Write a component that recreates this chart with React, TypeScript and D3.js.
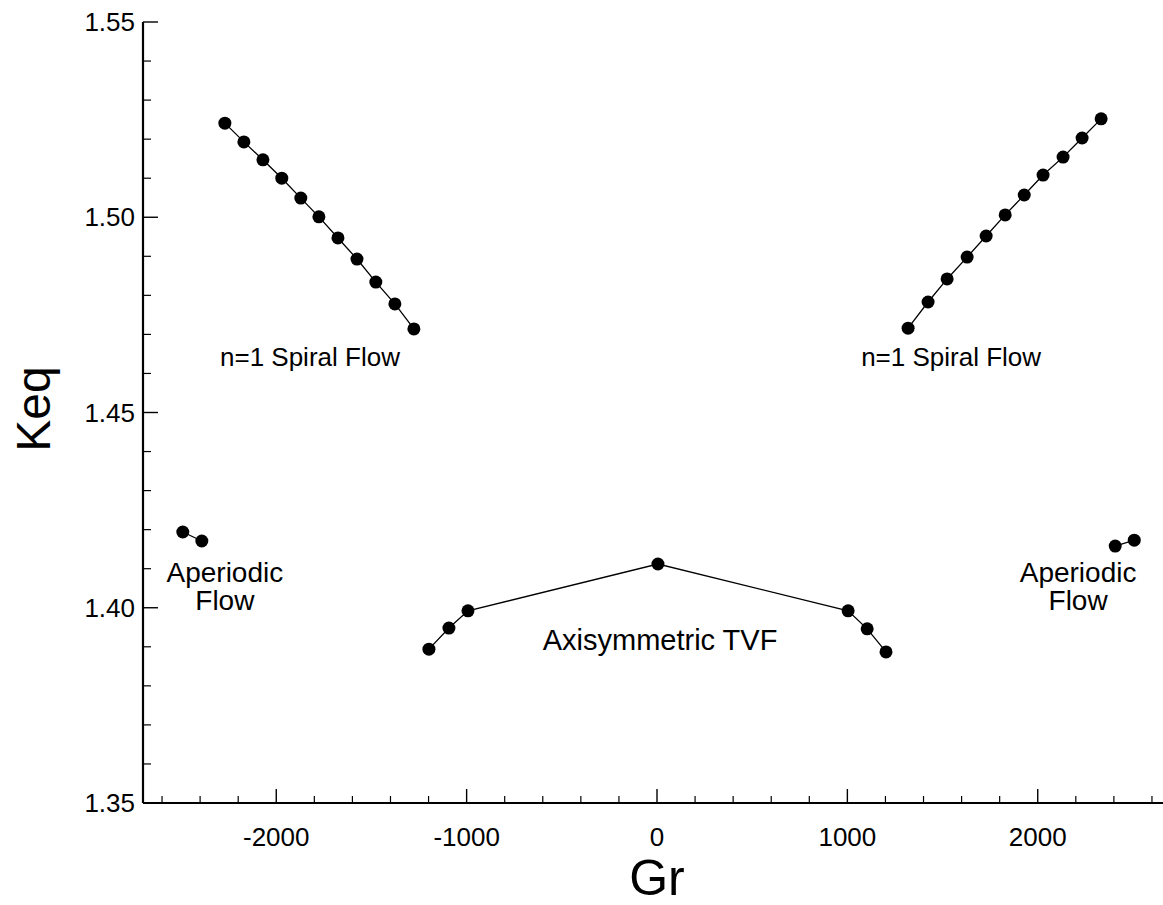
import React from "react";
import * as d3 from "d3";

// Keq versus Grashof number for the flow states
const spiralLeftGr = [-2270, -2170, -2070, -1971, -1871, -1776, -1676, -1576, -1477, -1377, -1277];
const spiralLeftKeq = [1.5241, 1.5193, 1.5147, 1.51, 1.5049, 1.5001, 1.4947, 1.4893, 1.4834, 1.4778, 1.4714];

const spiralRightGr = [1319, 1424, 1524, 1629, 1729, 1829, 1929, 2028, 2133, 2233, 2333];
const spiralRightKeq = [1.4716, 1.4783, 1.4842, 1.4898, 1.4952, 1.5006, 1.5057, 1.5108, 1.5154, 1.5203, 1.5252];

const aperiodicLeftGr = [-2491, -2391];
const aperiodicLeftKeq = [1.4194, 1.4171];

const aperiodicRightGr = [2407, 2507];
const aperiodicRightKeq = [1.4158, 1.4173];

const tvfGr = [-1198, -1093, -993, 5, 1004, 1104, 1203];
const tvfKeq = [1.3894, 1.3948, 1.3992, 1.4112, 1.3992, 1.3946, 1.3887];

const xTickValues = [-2000, -1000, 0, 1000, 2000];
const yTickValues = [1.35, 1.4, 1.45, 1.5, 1.55];

// text annotations anchored in data coordinates (Gr, Keq of first baseline)
const annotations = [
  { lines: ["n=1 Spiral Flow"], gr: -1823, keq: 1.4618, size: 26 },
  { lines: ["n=1 Spiral Flow"], gr: 1545, keq: 1.4618, size: 26 },
  { lines: ["Aperiodic", "Flow"], gr: -2270, keq: 1.4066, size: 28 },
  { lines: ["Aperiodic", "Flow"], gr: 2212, keq: 1.4066, size: 28 },
  { lines: ["Axisymmetric TVF"], gr: 16, keq: 1.3892, size: 29 },
];

const W = 1163;
const H = 905;
const FONT = "'Liberation Sans', Arial, Helvetica, sans-serif";

export default function App() {
  const x = d3.scaleLinear().domain([-2700, 2700]).range([143, 1171]);
  const y = d3.scaleLinear().domain([1.35, 1.55]).range([803, 22]);

  const series = [
    { gr: spiralLeftGr, keq: spiralLeftKeq },
    { gr: spiralRightGr, keq: spiralRightKeq },
    { gr: aperiodicLeftGr, keq: aperiodicLeftKeq },
    { gr: aperiodicRightGr, keq: aperiodicRightKeq },
    { gr: tvfGr, keq: tvfKeq },
  ];

  const line = d3
    .line<[number, number]>()
    .x((d) => x(d[0]))
    .y((d) => y(d[1]));

  const xMinor = d3.range(-2600, 2701, 200).filter((v) => v % 1000 !== 0);
  const yMinor = d3.range(135, 156, 1).map((v) => v / 100).filter((v) => Math.round(v * 100) % 5 !== 0);

  const x0 = x.range()[0];
  const y0 = y.range()[0];

  return (
    <svg
      width={W}
      height={H}
      style={{ position: "absolute", left: 0, top: 0, background: "#fff" }}
      fontFamily={FONT}
    >
      <rect width={W} height={H} fill="#fff" />

      {/* axes */}
      <line x1={x0} y1={y(1.55)} x2={x0} y2={y0} stroke="#000" strokeWidth={2.2} />
      <line x1={x0} y1={y0} x2={x.range()[1]} y2={y0} stroke="#000" strokeWidth={2.2} />

      {/* x ticks */}
      {xTickValues.map((v) => (
        <g key={"xt" + v}>
          <line x1={x(v)} x2={x(v)} y1={y0} y2={y0 - 14} stroke="#000" strokeWidth={1.4} />
          <text x={x(v)} y={846} textAnchor="middle" fontSize={26} fill="#000">
            {v < 0 ? "-" + Math.abs(v) : String(v)}
          </text>
        </g>
      ))}
      {xMinor.map((v) => (
        <line key={"xm" + v} x1={x(v)} x2={x(v)} y1={y0} y2={y0 - 7} stroke="#000" strokeWidth={1.2} />
      ))}

      {/* y ticks */}
      {yTickValues.map((v) => (
        <g key={"yt" + v}>
          <line x1={x0} x2={x0 + 15} y1={y(v)} y2={y(v)} stroke="#000" strokeWidth={1.4} />
          <text x={135} y={y(v) + 9} textAnchor="end" fontSize={26} fill="#000">
            {v.toFixed(2)}
          </text>
        </g>
      ))}
      {yMinor.map((v) => (
        <line key={"ym" + v} x1={x0} x2={x0 + 8} y1={y(v)} y2={y(v)} stroke="#000" strokeWidth={1.2} />
      ))}

      {/* axis titles */}
      <text x={657} y={895} textAnchor="middle" fontSize={50} fill="#000">
        Gr
      </text>
      <text
        transform={`translate(50,409) rotate(-90)`}
        textAnchor="middle"
        fontSize={48}
        fill="#000"
      >
        Keq
      </text>

      {/* data */}
      {series.map((s, i) => {
        const pts = s.gr.map((g, j) => [g, s.keq[j]] as [number, number]);
        return (
          <g key={"s" + i}>
            <path d={line(pts) || ""} fill="none" stroke="#000" strokeWidth={1.3} />
            {pts.map((p, j) => (
              <circle key={j} cx={x(p[0])} cy={y(p[1])} r={6.5} fill="#000" />
            ))}
          </g>
        );
      })}

      {/* annotations */}
      {annotations.map((a, i) =>
        a.lines.map((l, j) => (
          <text
            key={"a" + i + "-" + j}
            x={x(a.gr)}
            y={y(a.keq) + j * 28}
            textAnchor="middle"
            fontSize={a.size}
            fill="#000"
          >
            {l}
          </text>
        ))
      )}
    </svg>
  );
}
